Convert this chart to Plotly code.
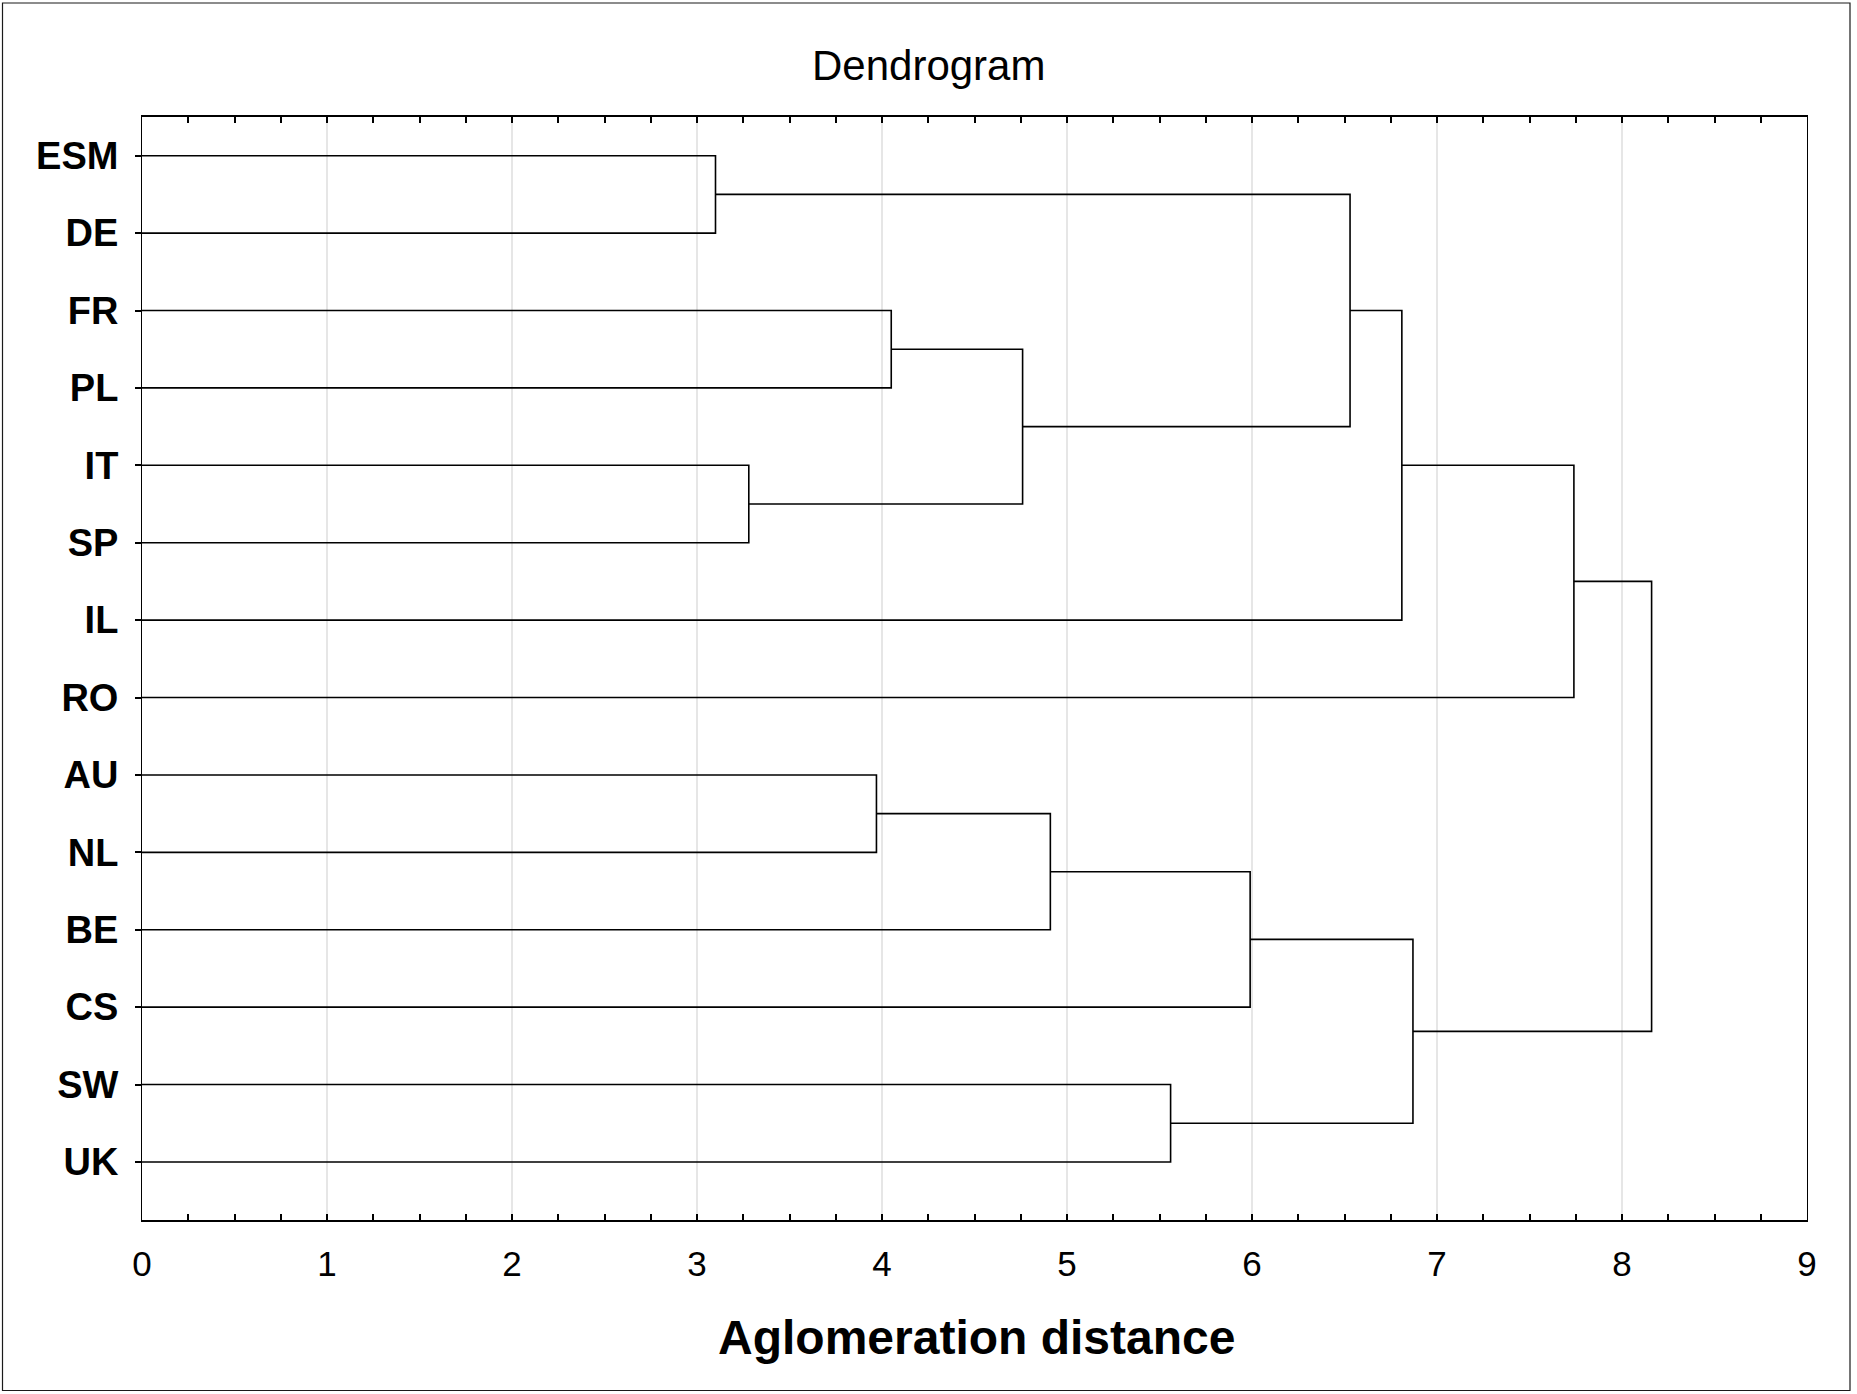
import plotly.graph_objects as go

# ---- data ----
leaves = ["ESM", "DE", "FR", "PL", "IT", "SP", "IL", "RO", "AU", "NL", "BE", "CS", "SW", "UK"]
# merges: new cluster ids start at len(leaves)
merge_left = [0, 2, 4, 15, 14, 18, 19, 8, 21, 22, 12, 23, 20]
merge_right = [1, 3, 5, 16, 17, 6, 7, 9, 10, 11, 13, 24, 25]
merge_height = [3.10, 4.05, 3.28, 4.76, 6.53, 6.81, 7.74, 3.97, 4.91, 5.99, 5.56, 6.87, 8.16]
x_tick_values = [0, 1, 2, 3, 4, 5, 6, 7, 8, 9]

# ---- build dendrogram segments ----
pos = {i: (0.0, i + 1.0) for i in range(len(leaves))}
xs, ys = [], []
for k, (a, b, h) in enumerate(zip(merge_left, merge_right, merge_height)):
    xa, ya = pos[a]
    xb, yb = pos[b]
    xs += [xa, h, h, xb, None]
    ys += [ya, ya, yb, yb, None]
    pos[len(leaves) + k] = (h, (ya + yb) / 2)

FONT = "Arial, Liberation Sans, sans-serif"
W, H = 1857, 1394
L, R, T, B = 142, 50, 117, 174
pw, ph = W - L - R, H - T - B

def px(x):
    return (x - L) / pw

def py(y):
    return (H - B - y) / ph

fig = go.Figure()
fig.add_trace(go.Scatter(x=xs, y=ys, mode="lines",
                         line=dict(color="black", width=1.6),
                         hoverinfo="skip", showlegend=False, cliponaxis=False))

fig.update_layout(
    width=W, height=H,
    margin=dict(l=L, r=R, t=T, b=B),
    paper_bgcolor="white", plot_bgcolor="white",
    font=dict(family=FONT, color="black"),
    showlegend=False,
    xaxis=dict(
        range=[0, 9], tickmode="array", tickvals=x_tick_values,
        ticktext=[str(v) for v in x_tick_values],
        ticks="inside", ticklen=6, tickwidth=1.5, tickcolor="black",
        showgrid=True, gridcolor="#e6e6e6", gridwidth=1.5,
        showline=True, linecolor="black", linewidth=2, mirror="allticks",
        zeroline=False,
        tickfont=dict(family=FONT, size=35, color="black"),
        ticklabelstandoff=12,
        minor=dict(dtick=0.25, tick0=0, ticks="inside", ticklen=6, tickwidth=1.5,
                   tickcolor="black", showgrid=False),
    ),
    yaxis=dict(
        range=[14.75, 0.5], tickmode="array",
        tickvals=[i + 1 for i in range(len(leaves))], ticktext=leaves,
        ticks="outside", ticklen=6, tickwidth=1.5, tickcolor="black",
        showgrid=False, zeroline=False,
        showline=True, linecolor="black", linewidth=1, mirror=True,
        tickfont=dict(family=FONT, size=38, color="black", weight="bold"),
        ticklabelstandoff=9,
    ),
    annotations=[
        dict(text="Dendrogram", xref="paper", yref="paper",
             x=px(928), y=py(66), xanchor="center", yanchor="middle",
             showarrow=False, font=dict(family=FONT, size=42, color="black")),
        dict(text="Aglomeration distance", xref="paper", yref="paper",
             x=px(976), y=py(1337), xanchor="center", yanchor="middle",
             showarrow=False, font=dict(family=FONT, size=48, color="black", weight="bold")),
    ],
    shapes=[
        dict(type="rect", xref="paper", yref="paper",
             x0=px(2.5), x1=px(1850), y0=py(1390.5), y1=py(3),
             line=dict(color="#1a1a1a", width=1.2), fillcolor="rgba(0,0,0,0)", layer="below"),
    ],
)

fig.write_html("out.html")
